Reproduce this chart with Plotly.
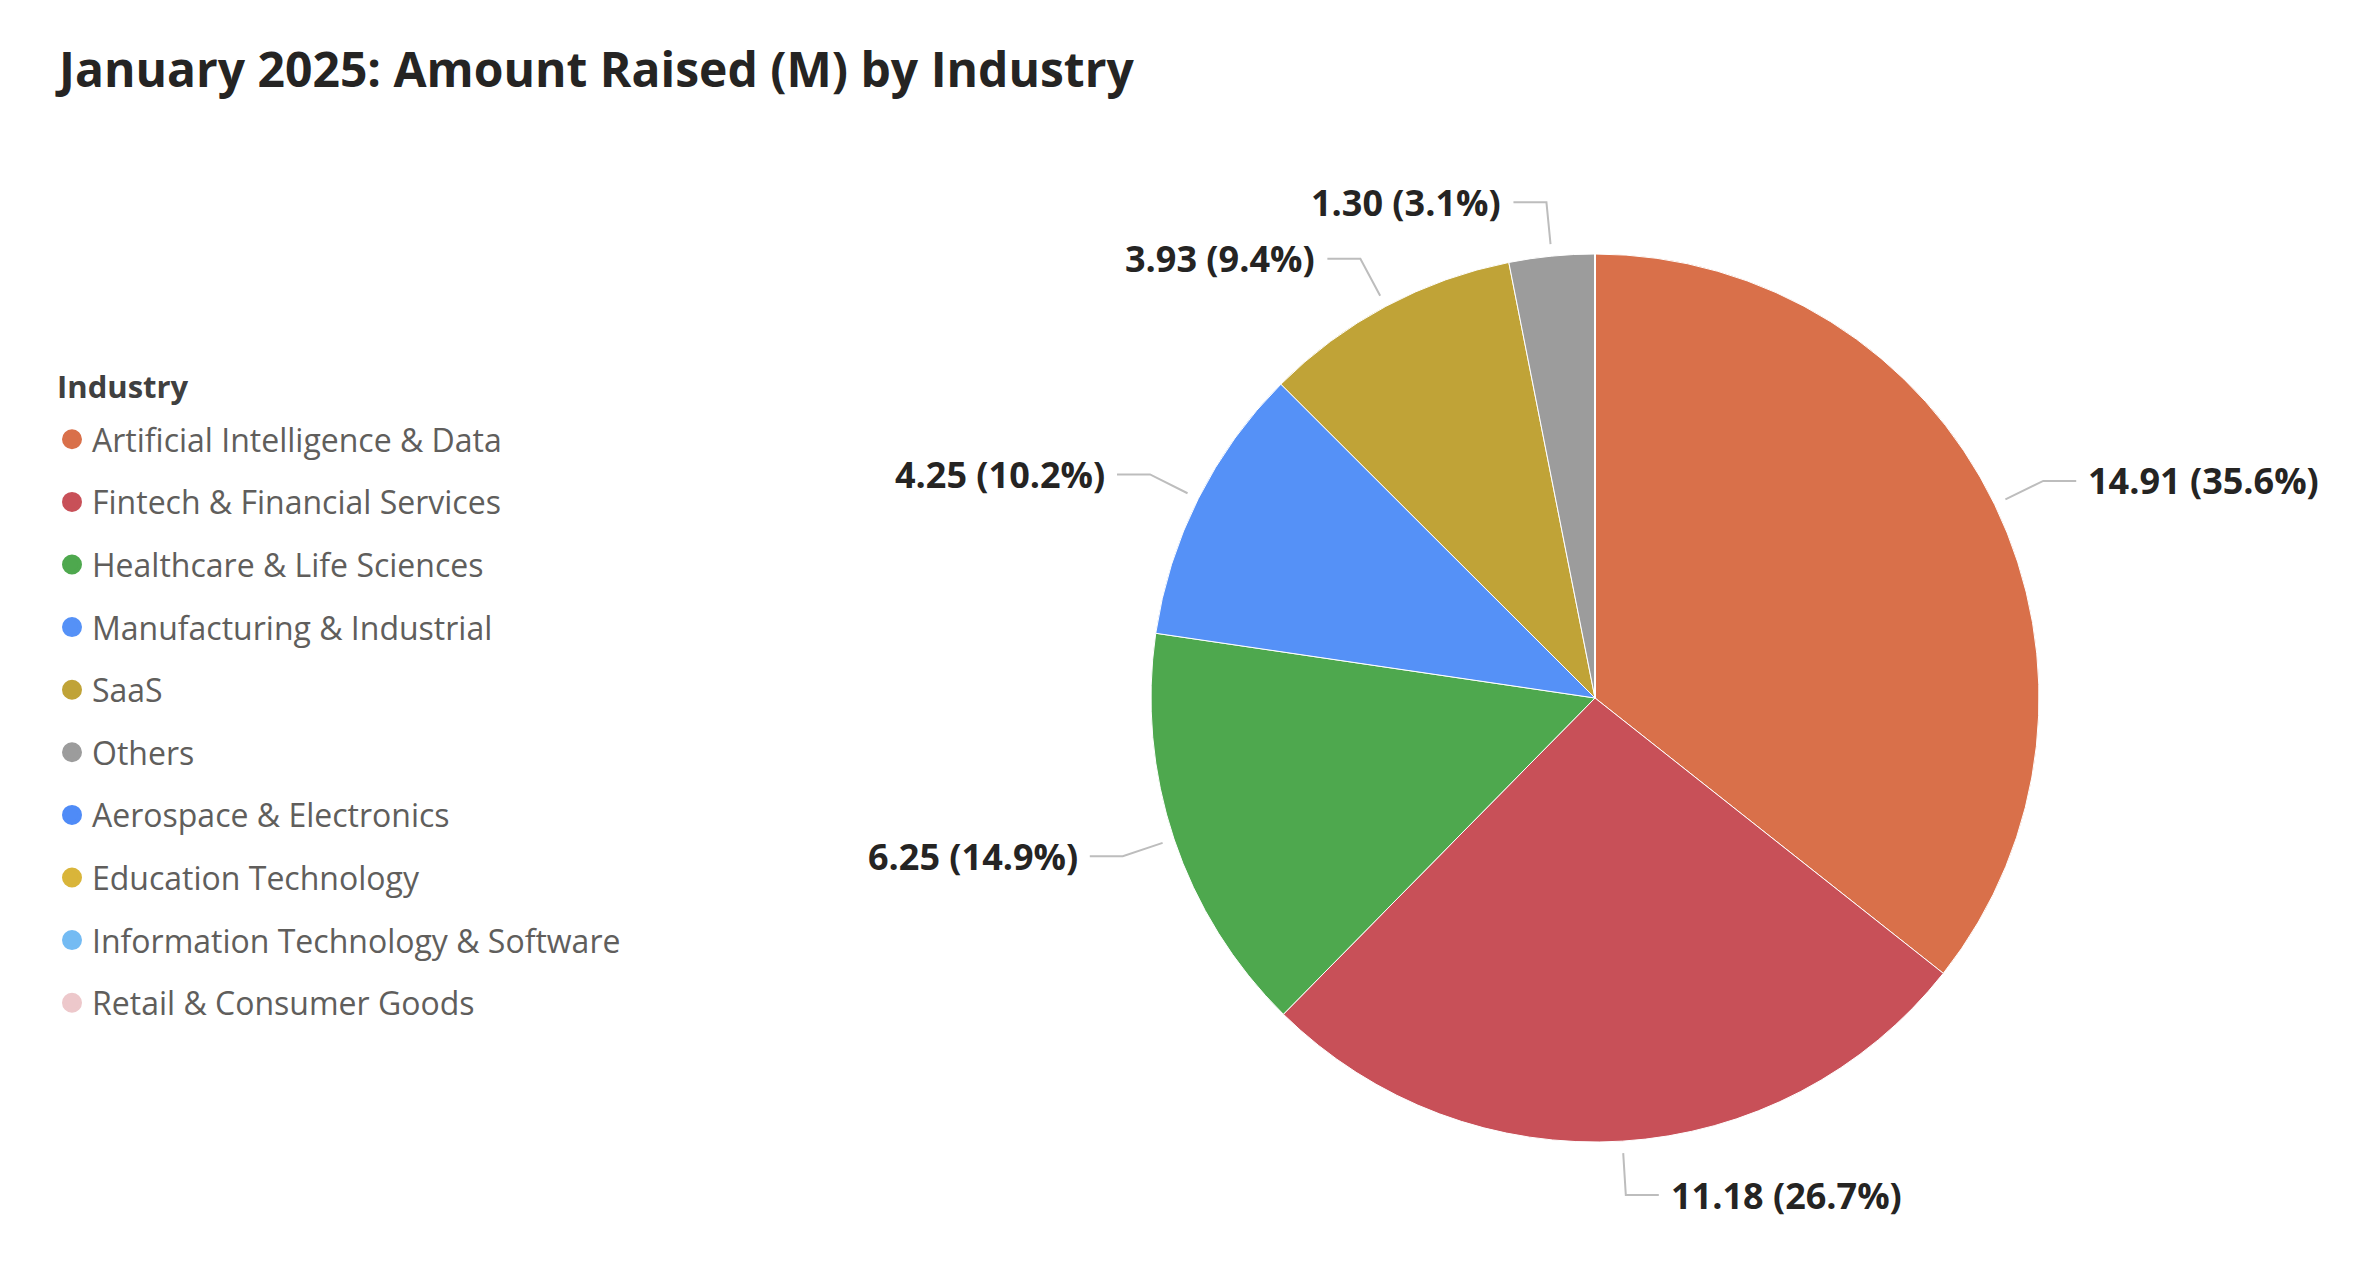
import math
import plotly.graph_objects as go

W, H = 2374, 1270

industries = [
    "Artificial Intelligence & Data",
    "Fintech & Financial Services",
    "Healthcare & Life Sciences",
    "Manufacturing & Industrial",
    "SaaS",
    "Others",
    "Aerospace & Electronics",
    "Education Technology",
    "Information Technology & Software",
    "Retail & Consumer Goods",
]
amounts = [14.906, 11.18, 6.25, 4.25, 3.93, 1.30, 0, 0, 0, 0]
colors = ["#D9704A", "#C85058", "#4EA84E", "#5591F7", "#C0A337", "#9C9C9C",
          "#4F8BF7", "#D9B53A", "#74BBF3", "#EDC8CB"]

FONT = "Segoe UI, Open Sans, sans-serif"

# pie geometry in pixels
cx, cy, R = 1587, 690, 444

fig = go.Figure()
fig.add_trace(go.Pie(
    labels=industries, values=amounts, sort=False, direction="clockwise",
    marker=dict(colors=colors, line=dict(color="white", width=1)),
    textinfo="none", hoverinfo="label+value+percent", showlegend=False,
    domain=dict(x=[(cx - R) / W, (cx + R) / W], y=[1 - (cy + R) / H, 1 - (cy - R) / H]),
))

# legend entries
for name, col in zip(industries, colors):
    fig.add_trace(go.Scatter(
        x=[None], y=[None], mode="markers", name=name, legendgroup=name,
        marker=dict(color=col, size=16, symbol="circle", line=dict(color=col, width=4)),
        showlegend=True,
    ))

def P(px, py):
    return px / W, 1 - py / H

total = sum(amounts)
cum = 0.0
annotations = []
shapes = []
for v in amounts:
    if v <= 0:
        continue
    mid = (cum + v / 2) / total * 2 * math.pi
    cum += v
    s, c = math.sin(mid), -math.cos(mid)
    x0, y0 = cx + (R + 12) * s, cy + (R + 12) * c
    x1, y1 = cx + (R + 54) * s, cy + (R + 54) * c
    side = 1 if s >= 0 else -1
    x2 = x1 + side * 33
    shapes.append(dict(type="path", xref="paper", yref="paper",
                       path="M {} {} L {} {} L {} {}".format(*P(x0, y0), *P(x1, y1), *P(x2, y1)),
                       line=dict(color="#BDBDBD", width=2)))
    tx = x2 + side * 10
    pct = v / total * 100
    annotations.append(dict(
        xref="paper", yref="paper", x=tx / W, y=1 - y1 / H,
        xanchor="left" if side > 0 else "right", yanchor="middle",
        text=f"{v:.2f} ({pct:.1f}%)", showarrow=False,
        font=dict(family=FONT, size=36, color="#252423", weight="bold"),
    ))

annotations.append(dict(
    xref="paper", yref="paper", x=47 / W, y=1 - 378 / H, xanchor="left", yanchor="middle",
    text="Industry", showarrow=False,
    font=dict(family=FONT, size=31, color="#404040", weight="bold"),
))

fig.update_layout(
    width=W, height=H, margin=dict(l=0, r=0, t=0, b=0),
    paper_bgcolor="white", plot_bgcolor="white",
    title=dict(text="January 2025: Amount Raised (M) by Industry", x=51 / W, xanchor="left",
               y=1 - 62 / H, yanchor="middle", xref="paper", yref="paper",
               font=dict(family=FONT, size=48, color="#252423", weight="bold")),
    xaxis=dict(visible=False), yaxis=dict(visible=False),
    legend=dict(x=44 / W, y=1 - 404 / H, xanchor="left", yanchor="top",
                font=dict(family=FONT, size=32, color="#605E5C"),
                tracegroupgap=18, itemwidth=30, bgcolor="rgba(0,0,0,0)"),
    shapes=shapes, annotations=annotations,
)

fig.write_html("out.html")
